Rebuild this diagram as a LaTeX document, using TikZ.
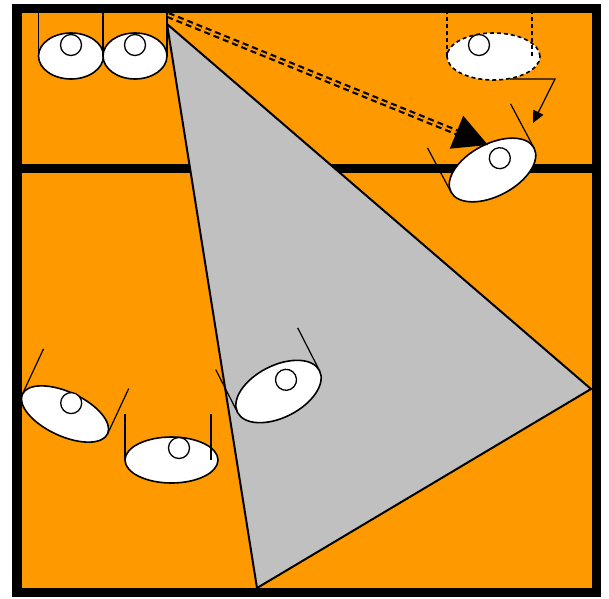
\documentclass[tikz,border=0pt]{standalone}
\usepackage{xcolor}
\usepackage{tikz}
\usetikzlibrary{arrows.meta}
\definecolor{floor}{HTML}{FF9900}
\definecolor{cone}{HTML}{C0C0C0}

\tikzset{
  eyeball/.style={draw=black, fill=white, line width=1.6pt},
  eyeline/.style={draw=black, line width=1.2pt},
  eyepupil/.style={draw=black, fill=white, line width=1.3pt, solid},
  pics/eye/.style n args={7}{code={
    \path[eyeball] (0,0) ellipse [x radius=#1, y radius=#2];
    \path[eyeline] (#3,0) -- ++(0,#5);
    \path[eyeline] (#4,0) -- ++(0,#5);
    \path[eyepupil] (#6,#7) circle [radius=10.5];
  }},
}

\begin{document}
\begin{tikzpicture}[x=1pt, y=1pt]
    \useasboundingbox (0,0) rectangle (609,598);

    % 地面
    \fill[floor] (17,5.3) rectangle (596.7,589.3);
    \draw[line width=9pt] (22,429.5) -- (592,429.5);

    % 视野
    \coordinate (cone-top) at (167,574);
    \coordinate (cone-bottom) at (257,10);
    \coordinate (cone-right) at (591,209);
    \draw[fill=cone, line width=2pt, line join=round]
        (cone-top) -- (cone-bottom) -- (cone-right) -- cycle;

    % 眼睛
    \pic at (71,542) {eye={32.5}{23}{-32.5}{32.5}{43}{0}{11}};
    \pic at (135,542) {eye={32}{23}{-32}{32}{43}{0}{11}};
    \pic[dash pattern=on 4pt off 3pt] at (493.5,541.5) {eye={46.5}{23.5}{-46.5}{38.5}{44}{-14.5}{11.5}};
    \pic[rotate=28] at (492.5,428) {eye={47}{26}{-47}{47}{50}{12}{7}};
    \pic[rotate=27] at (278.5,206.5) {eye={46}{26}{-46}{46}{48}{12}{7}};
    \pic[rotate=-25] at (65,184) {eye={47}{22}{-47}{47}{50}{1}{12.5}};
    \pic at (171.5,138) {eye={46.5}{23}{-46.5}{39.5}{46}{7.5}{12}};

    % 箭头
    \coordinate (gaze-from) at (168,583);
    \coordinate (gaze-to) at (488,453);
    \draw[line width=2.2pt, double=floor, double distance=1.8pt,
          dash pattern=on 6pt off 4pt, -{Triangle[length=34pt, width=35pt]}]
        (gaze-from) -- (gaze-to);
    \coordinate (move-from) at (510,519);
    \coordinate (move-bend) at (555,519);
    \coordinate (move-to) at (533,475);
    \draw[line width=1.2pt, -{Triangle[length=12pt, width=11pt]}]
        (move-from) -- (move-bend) -- (move-to);

    % 边框
    \draw[line width=9.4pt] (17,5.3) rectangle (596.7,589.3);
\end{tikzpicture}
\end{document}
